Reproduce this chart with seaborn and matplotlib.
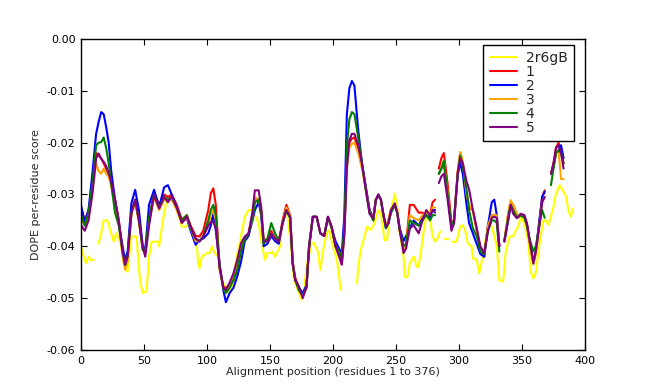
import numpy as np
import pandas as pd
import matplotlib
matplotlib.use("Agg")
import matplotlib.pyplot as plt
from matplotlib.lines import Line2D
import seaborn as sns

# values in units of 1e-3 (DOPE per-residue score); None = gap
X_MODEL = [0, 3, 6, 9, 12, 14, 16, 18, 20, 22, 24, 27, 30, 33, 35, 37, 40, 43, 46, 49,
           51, 54, 58, 62, 66, 69, 72, 76, 80, 84, 87, 91, 94, 97, 101, 103, 105, 107, 110, 113,
           115, 118, 121, 124, 127, 130, 133, 136, 138, 141, 143, 145, 148, 151, 154, 157, 160, 163, 166, 168,
           170, 173, 176, 179, 181, 184, 187, 190, 193, 196, 199, 202, 205, 207, 209, 211, 213, 215, 217, 220,
           223, 226, 229, 232, 234, 236, 238, 240, 242, 244, 246, 249, 251, 253, 256, 258, 261, 264, 268, 271,
           274, 277, 279, 281, 282, 284, 286, 288, 291, 294, 296, 299, 301, 303, 306, 308, 311, 314, 317, 320,
           323, 326, 328, 330, 332, 334, 336, 339, 341, 343, 346, 349, 352, 354, 356, 359, 361, 364, 366, 368,
           370, 373, 375, 377, 379, 381, 383]

M5 = [-35.9, -37, -35, -30, -23, -22.1, -23.1, -23.7, -24.5, -26, -27.5, -31, -35, -41, -43.5, -42, -33.6, -31, -35, -40,
      -42, -36, -30.1, -32.7, -30.5, -31.5, -30.4, -32.5, -35.5, -34.3, -36.2, -38.5, -39.1, -38.1, -36, -35.3, -35.3, -36.5, -44, -48,
      -48.4, -47, -45.2, -42.6, -39.4, -38.1, -37.5, -33.5, -29.2, -29.2, -32.4, -39, -39.1, -37.5, -38.5, -39.1, -35.6, -33, -34.3, -43.3,
      -46.5, -47.8, -50, -47.8, -40, -34.3, -34.3, -37.5, -38, -34.3, -36.2, -40, -42, -43.5, -38, -25, -19.5, -18.3, -18.3, -20.5,
      -24, -29, -33.7, -34.6, -31.1, -30.1, -31, -33.7, -36.2, -35.5, -33, -31.7, -33.5, -36.9, -41.3, -40.4, -36.5, -35.9, -37.5, -35,
      -33, -34, -33, -33.5, None, -27.8, -26.5, -26, -31, -37, -35.6, -26, -23, -24, -27.5, -29, -33, -36.5, -40, -41.3,
      -37, -34.5, -34.3, -34.5, -40, None, -39.1, -35, -32, -33.7, -34.6, -33.7, -34, -35.6, -38.8, -43.3, -41, -35.6, -31.5, -30.5,
      None, -26, -24, -21, -20.5, -22, -25]

M1 = [-32.5, -35, -33, -29, -22, -22.5, -23, -24, -25, -26, -28, -31, -35, -41, -43.5, -42, -33.5, -31, -35, -40.5,
      -41.5, -35, -29.5, -32, -30, -30.5, -30, -32, -34.8, -34, -36, -38, -38.1, -37, -33, -29.8, -28.8, -32, -44, -47.8,
      -48, -47.5, -46.5, -44.6, -40.5, -38.5, -37.5, -34, -31, -31.5, -33, -39, -38.5, -37, -38.5, -39, -35, -32, -34, -43,
      -46, -48, -49.5, -47.5, -40, -34.3, -34.3, -37.5, -38, -34.3, -36.5, -40, -42, -43.5, -37, -24, -20, -19.2, -19, -21,
      -24.5, -28.5, -33, -35, -31, -30, -31, -34, -36, -35, -33, -32, -33.5, -37, -40.5, -39.5, -32, -32, -33.5, -33.5,
      -34, -34, -31.5, -31, None, -25, -23, -22, -28, -35.5, -35, -25.5, -22, -24, -30, -32.5, -33, -36.5, -40.5, -42,
      -36, -34, -34, -34.5, -40, None, -39, -34, -31.5, -32, -34, -34, -34.5, -36, -39, -43, -41, -35, -30.5, -29.2,
      None, -26, -24, -21, -20, -21.5, -24]

M2 = [-32.1, -35.3, -33, -26, -18.3, -16, -14.1, -14.5, -17, -20, -25.5, -31, -35.6, -40, -42.6, -41, -31.7, -29.1, -33, -40,
      -40.7, -32, -29.1, -32.4, -28.6, -28.2, -30, -32.4, -35.3, -34.6, -37, -39.7, -38.8, -38.5, -37.5, -36, -33.7, -36.9, -43.3, -48.5,
      -50.8, -49, -48, -45.8, -43, -39, -38, -35, -33, -31.5, -34, -40, -39.5, -38, -39, -39.5, -35.5, -33, -34.5, -43,
      -46.5, -48, -49, -47.5, -40.5, -34.3, -34.3, -37.5, -38, -34.3, -36.5, -39, -40.5, -41.5, -34, -14.5, -9.5, -8.1, -9, -17.5,
      -24, -28.5, -33, -34.5, -31, -30, -31, -34, -36.5, -35.5, -33.5, -32, -33.5, -36.5, -39, -38, -36.5, -35, -36, -34.5,
      -33.5, -34.5, -33, -33, None, -26, -25, -24, -30, -36, -35.5, -26, -24, -26, -32, -35.5, -37.5, -39.5, -41.5, -42,
      -36, -31.5, -31, -34, -40, None, -39, -35, -32, -33, -34.5, -34, -34.5, -36, -39, -43, -41, -34.5, -30.5, -29.5,
      None, -26, -24.7, -22, -21.5, -20.5, -23]

M3 = [-34.5, -36, -34, -29.5, -24, -25.5, -26, -25, -26, -26.5, -28.5, -31.5, -35.5, -42, -44.5, -43, -34, -31.5, -35.5, -40.5,
      -41.5, -35.5, -30.5, -33, -31, -31, -31, -33, -35.5, -34.5, -36.5, -39, -39, -38, -36, -34, -33, -35, -44.5, -48,
      -48.5, -47.5, -46, -43.5, -40, -38.5, -37.5, -34, -30.5, -31, -33, -39, -39, -37.5, -38.5, -39, -35.5, -32.5, -34, -43,
      -46.5, -48.5, -49.5, -48, -40, -34.3, -34.3, -37.5, -38, -34.5, -36.5, -40, -42, -43, -37.5, -25, -21, -20.2, -20, -22,
      -25, -29, -33.5, -34.5, -31, -30.2, -31, -34, -36, -35, -33, -32, -33.5, -37, -40.5, -39.5, -34, -34.5, -35, -34,
      -33.5, -34, -32.5, -32.5, None, -26, -25, -23.5, -29.5, -36.5, -35.5, -25.5, -21.8, -23.5, -30, -32, -33, -37, -40.5, -41.5,
      -36, -34, -34, -34, -40, None, -39, -33.5, -31.1, -32, -34, -34, -34.5, -36, -39.5, -43.5, -41.5, -35.5, -31.5, -30.5,
      None, -26, -24.5, -22, -21.5, -27, -27]

M4 = [-34, -36, -33.5, -28, -20.5, -20, -19.9, -19, -21, -24, -28, -33.5, -36, -41, -43.6, -42, -33.5, -31, -35, -40.7,
      -41, -34.5, -30, -32.5, -30.5, -31, -30.5, -32.5, -35, -34, -36.5, -38.5, -39, -38, -35, -33, -32, -34, -44, -48.2,
      -49, -48, -46.5, -44.5, -41, -38.5, -37.5, -35, -31.5, -31, -33.5, -39.5, -38.5, -35.5, -37.5, -39, -35.5, -33, -34.5, -43.5,
      -46.5, -48.5, -49.5, -48, -40, -34.3, -34.3, -37.5, -38, -34.5, -36.5, -40, -41, -42.5, -36.5, -20.5, -15.5, -14.1, -14.5, -19,
      -24, -29, -33.5, -35, -31, -30.2, -31, -34, -36.5, -35.5, -33.5, -32, -33.5, -37, -40, -39.5, -35, -35.5, -36, -35,
      -34, -35, -34, -34, None, -26, -25, -23.5, -30, -36, -35, -26, -22.5, -24.5, -29, -33, -36.5, -38, -41, -41.5,
      -37, -35, -35, -35.5, -41, None, -39, -34.5, -32, -33, -34.5, -34, -34.5, -36, -38.5, -41, -40, -35.5, -33, -34.5,
      None, -28.2, -25, -22, -21.5, -22, -24]

X_REF = [0, 3, 4, 6, 8, 10, 12, 14, 16, 18, 21, 24, 26, 28, 30, 32, 35, 37, 40, 44,
         47, 49, 52, 54, 56, 61, 62, 65, 68, 70, 73, 77, 80, 84, 86, 89, 92, 93, 94, 96,
         100, 102, 104, 106, 109, 111, 114, 116, 118, 121, 123, 127, 130, 133, 136, 139, 141, 143, 146, 148,
         151, 152, 154, 156, 158, 159, 162, 164, 167, 169, 172, 175, 177, 179, 183, 185, 188, 190, 192, 195,
         197, 200, 203, 205, 206, 212, 219, 220, 222, 225, 227, 230, 233, 236, 238, 241, 243, 245, 248, 249,
         251, 253, 256, 257, 259, 261, 264, 265, 266, 268, 270, 272, 275, 277, 279, 281, 283, 285, 287, 289,
         291, 293, 295, 298, 301, 303, 305, 307, 310, 311, 314, 316, 318, 320, 323, 325, 327, 330, 332, 335,
         337, 340, 343, 345, 347, 349, 352, 355, 357, 359, 361, 364, 367, 369, 371, 375, 377, 380, 382, 385,
         387, 389, 390]
REF = [-40, -42.5, -43.3, -42, -42.7, -42.6, None, -39.5, -37.5, -35, -35, -37.5, -39.1, -37.5, -38.5, -40, -44.5, -44.9, -38.1, -38.1,
       -47, -49, -48.7, -42, -39.1, -39.1, -40, -35, -31.1, -30.5, -31, -33.7, -36.2, -36.2, -35.3, -37.5, -40, -43.3, -44.2, -42,
       -41.3, -41.3, -40, -41.3, -42, -45.8, -47.8, -49, -48.4, -47.1, -42.6, -38.1, -34.3, -33, -33, -34.5, -35.5, -38.8, -42.6, -41.3,
       -41.3, -41, -42, -41, -40, -36.9, -33.3, -34.3, -40.7, -46.5, -48.4, -50.3, -48.4, -44, -39.4, -39.4, -41, -44.6, -41, -37.5,
       -36.9, -40, -42.5, -46, -48.4, None, -47.1, -44, -40.7, -38.1, -36.2, -36.9, -35.5, -33, -33.7, -38.8, -38.8, -33.7, -31.1, -29.8,
       -32.5, -37.5, -42, -45.8, -46, -43.3, -42, -42.3, -43.9, -43.9, -40.7, -37, -33, -34.5, -38.1, -39.1, -38.5, -37.1, None, -38.5,
       -38.5, None, -39.1, -39.1, -36.2, -35.9, -37, -39.4, -40, -42.3, -42.5, -45.2, -43, -40, -36.2, -35.6, -37, -40, -46.5, -46.8,
       -41.3, -38.1, -38.1, -37, -36.2, -34.3, -35.6, -39.1, -44.9, -46.2, -45, -39.4, -35, -35, -35.9, -32.4, -29.8, -28.2, -29, -30.4,
       -33.3, -34.3, -32.7]

NAMES = ["2r6gB", "1", "2", "3", "4", "5"]
COLORS = ["#ffff00", "#ff0000", "#0000ff", "#ffa500", "#008000", "#800080"]
XTICKS = [0, 50, 100, 150, 200, 250, 300, 350, 400]
YTICKS = [0.00, -0.01, -0.02, -0.03, -0.04, -0.05, -0.06]


def to_frame(name, xs, ys):
    rows = []
    seg = 0
    for x, y in zip(xs, ys):
        if y is None:
            seg += 1
            continue
        rows.append((name, x, y / 1000.0, seg))
    return pd.DataFrame(rows, columns=["series", "pos", "score", "seg"])


series_data = [(X_REF, REF), (X_MODEL, M1), (X_MODEL, M2), (X_MODEL, M3), (X_MODEL, M4), (X_MODEL, M5)]
for xs, ys in series_data:
    assert len(xs) == len(ys), (len(xs), len(ys))

sns.set_style("ticks")
plt.rcParams["font.family"] = ["DejaVu Sans"]
plt.rcParams["axes.unicode_minus"] = False

fig = plt.figure(figsize=(6.5, 3.9), dpi=100)
fig.patch.set_facecolor("white")
ax = fig.add_axes([0.1246, 0.1026, 0.7754, 0.7974])

for name, color, (xs, ys) in zip(NAMES, COLORS, series_data):
    df = to_frame(name, xs, ys)
    sns.lineplot(data=df, x="pos", y="score", units="seg", estimator=None,
                 color=color, linewidth=1.5, ax=ax, legend=False)

ax.set_xlim(0, 400)
ax.set_ylim(-0.06, 0.0)
ax.set_xticks(XTICKS)
ax.set_yticks(YTICKS)
ax.set_xticklabels([str(t) for t in XTICKS])
ax.set_yticklabels(["%.2f" % t for t in YTICKS])
ax.tick_params(direction="in", length=4, width=0.8, top=True, right=True,
               labelsize=8, colors="black", pad=4)
for s in ax.spines.values():
    s.set_visible(True)
    s.set_color("black")
    s.set_linewidth(1.0)
ax.set_xlabel("Alignment position (residues 1 to 376)", fontsize=8, labelpad=1)
ax.set_ylabel("DOPE per-residue score", fontsize=8, labelpad=4)

handles = [Line2D([0], [0], color=c, lw=1.5) for c in COLORS]
leg = ax.legend(handles, NAMES, loc="upper right", bbox_to_anchor=(0.978, 0.981),
                borderaxespad=0.0, fontsize=10, frameon=True,
                fancybox=False, edgecolor="black", framealpha=1.0,
                handlelength=2.0, labelspacing=0.0, borderpad=0.45,
                handletextpad=0.6)
leg.get_frame().set_linewidth(1.0)

fig.savefig("out.png", dpi=100, facecolor="white")
